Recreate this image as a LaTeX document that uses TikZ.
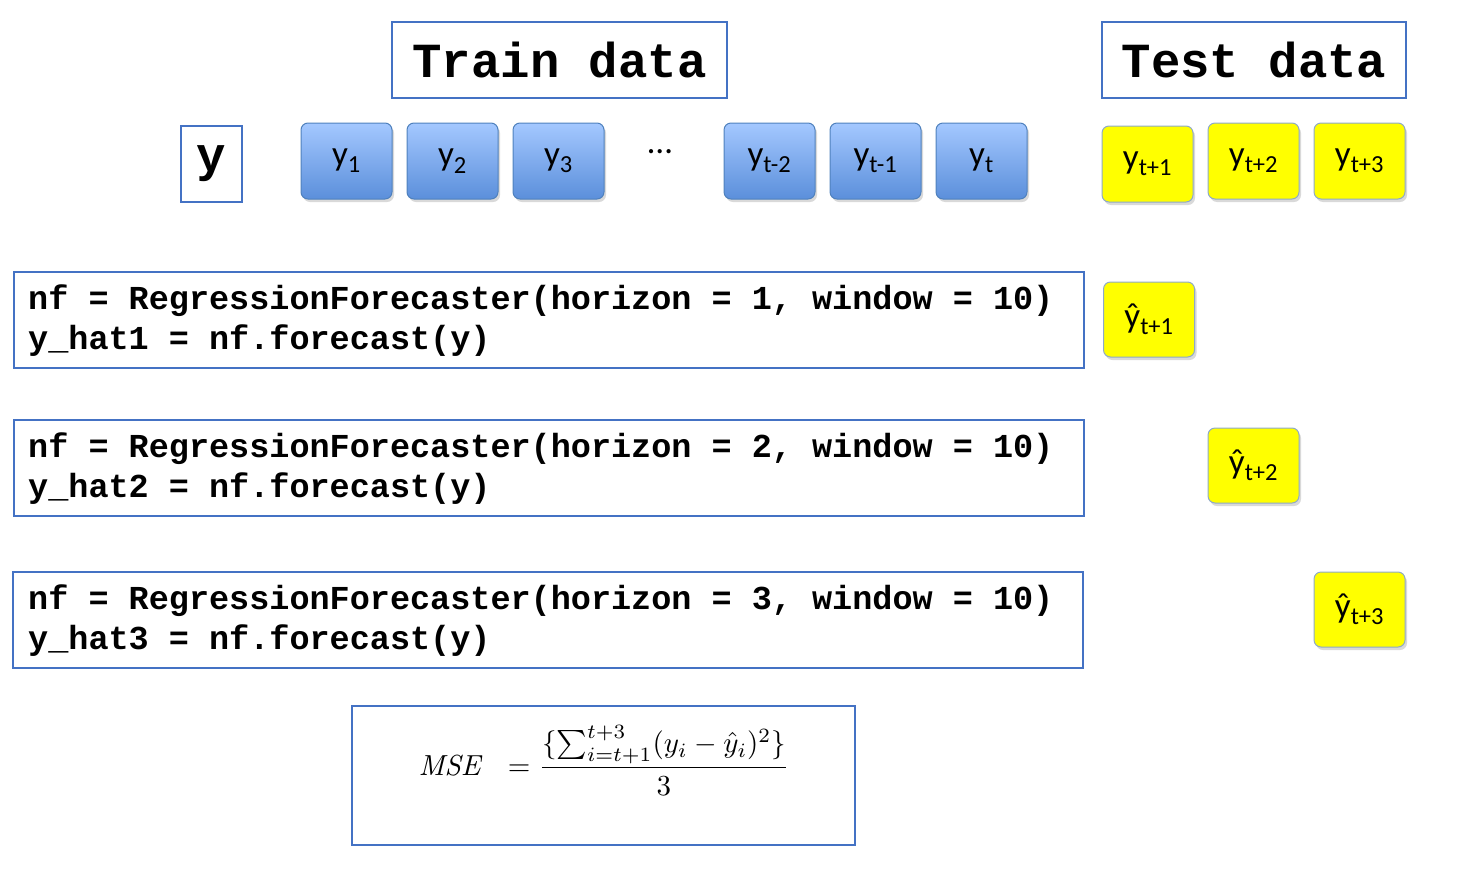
\documentclass[tikz,border=0pt]{standalone}
\usepackage{fontspec}
\usepackage{graphicx}
\setmonofont{Liberation Mono}
\setsansfont{Carlito}
\usetikzlibrary{shadows}
\definecolor{bord}{HTML}{4472C4}
\definecolor{bluetop}{HTML}{A4C8FF}
\definecolor{bluebot}{HTML}{5B8FDB}
\definecolor{bluebd}{HTML}{4F81BD}
\definecolor{yelbd}{HTML}{8EA9C8}
\begin{document}
\begin{tikzpicture}[x=1pt,y=-1pt,
  title/.style={draw=bord,line width=1.2pt,font=\fontsize{49}{52}\selectfont\ttfamily\bfseries,inner sep=0pt},
  blue/.style={draw=bluebd,line width=1pt,rounded corners=7pt,top color=bluetop,bottom color=bluebot,minimum width=91pt,minimum height=76pt,font=\fontsize{35}{38}\selectfont\sffamily,drop shadow={opacity=0.3,shadow xshift=2pt,shadow yshift=-3pt}},
  yel/.style={blue,top color=yellow,bottom color=yellow,draw=yelbd},
  code/.style={draw=bord,line width=1.2pt,inner sep=0pt},
  codetext/.style={anchor=west,font=\fontsize{33.5}{36}\selectfont\ttfamily\bfseries,inner sep=0pt}]
\useasboundingbox (0,0) rectangle (1461,873);
\node[title,minimum width=335pt,minimum height=76pt] (train) at (559.5,60) {Train data};
\node[title,minimum width=304pt,minimum height=76pt] (test) at (1254,60) {Test data};
\node[title,minimum width=61pt,minimum height=76pt] (y) at (211.5,164) {y};
\node[blue] (y1) at (346.5,161) {y\textsubscript{1}};
\node[blue] (y2) at (452.5,161) {y\textsubscript{2}};
\node[blue] (y3) at (558.5,161) {y\textsubscript{3}};
\node[font=\fontsize{35}{38}\selectfont\sffamily] (dots) at (660,152) {\dots};
\node[blue] (ytm2) at (769.5,161) {y\textsubscript{t-2}};
\node[blue] (ytm1) at (875.5,161) {y\textsubscript{t-1}};
\node[blue] (yt) at (981.5,161) {y\textsubscript{t}};
\node[yel] (f1) at (1147.5,164) {y\textsubscript{t+1}};
\node[yel] (f2) at (1253.5,161) {y\textsubscript{t+2}};
\node[yel] (f3) at (1359.5,161) {y\textsubscript{t+3}};
\node[yel,minimum height=75pt] (h1) at (1149,319.5) {\^y\textsubscript{t+1}};
\node[yel,minimum height=75pt] (h2) at (1253.5,465.5) {\^y\textsubscript{t+2}};
\node[yel,minimum height=75pt] (h3) at (1359.5,609.5) {\^y\textsubscript{t+3}};
\foreach \n/\top/\l in {1/272/14,2/420/14,3/572/13}{
  \draw[code] (\l,\top) rectangle ++(1070,96);
  \node[codetext] (c\n a) at (28,\top+29) {nf = RegressionForecaster(horizon = \n, window = 10)};
  \node[codetext] (c\n b) at (28,\top+69) {y\_hat\n\ = nf.forecast(y)};
}
\draw[code] (352,706) rectangle (855,845);
\node (mse) at (604,760) {\scalebox{2.9}{$\mathit{MSE}\ \ = {\displaystyle\frac{\{\sum_{i=t+1}^{t+3}(y_i-\hat y_i)^2\}}{3}}$}};
\end{tikzpicture}
\end{document}
